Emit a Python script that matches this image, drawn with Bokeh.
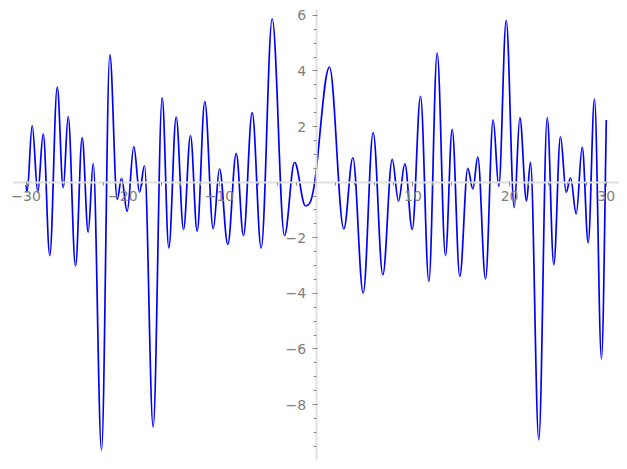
import numpy as np
from bokeh.plotting import figure
from bokeh.models import ColumnDataSource, FixedTicker, CustomJSTickFormatter
from bokeh.embed import file_html
from bokeh.resources import INLINE

# Points (mostly its turning points), with the local slope
xs = [-30.0, -29.9, -29.37, -28.79, -28.23, -27.55, -26.78, -26.16, -25.65, -24.89,
      -24.2, -23.58, -23.06, -22.2, -21.34, -20.58, -20.13, -19.55, -18.86, -18.27,
      -17.76, -16.86, -15.93, -15.24, -14.48, -13.72, -13.0, -12.31, -11.52, -10.65,
      -10.0, -9.14, -8.27, -7.52, -6.62, -5.69, -4.55, -3.28, -2.24, -1.11,
      0.0, 1.37, 2.86, 3.79, 4.86, 5.89, 6.89, 7.86, 8.51, 9.17,
      9.93, 10.79, 11.65, 12.51, 13.37, 14.06, 14.85, 15.68, 16.2, 16.71,
      17.51, 18.3, 18.88, 19.65, 20.48, 21.06, 21.75, 22.16, 23.02, 23.89,
      24.57, 25.26, 25.85, 26.3, 26.89, 27.51, 28.13, 28.78, 29.5, 30.0]
ys = [-0.1, -0.35, 2.04, -0.36, 1.74, -2.64, 3.42, -0.2, 2.36, -3.02,
      1.6, -1.8, 0.68, -9.65, 4.59, -0.62, 0.14, -1.05, 1.28, -0.36,
      0.6, -8.81, 3.04, -2.36, 2.34, -1.7, 1.68, -1.76, 2.9, -1.68,
      0.48, -2.24, 1.04, -1.92, 2.5, -2.37, 5.88, -1.92, 0.71, -0.85,
      0.42, 4.14, -1.68, 0.88, -3.99, 1.78, -3.33, 0.82, -0.68, 0.66,
      -1.7, 3.09, -3.57, 4.64, -2.64, 1.9, -3.39, 0.5, -0.24, 0.9,
      -3.48, 2.24, -0.15, 5.82, -0.92, 2.32, -0.68, 0.72, -9.27, 2.32,
      -2.97, 1.64, -0.36, 0.16, -1.14, 1.26, -2.18, 3.0, -6.35, 2.24]
slopes = [-3.0] + [0.0] * 39 + [3.0] + [0.0] * 38 + [20.0]

x_ticks = [-30, -20, -10, 10, 20, 30]
x_minor = list(range(-30, 31, 2))
y_ticks = [-8, -6, -4, -2, 2, 4, 6]
y_minor = [v / 2 for v in range(-19, 13)]

# Smooth curve: one cubic Bezier per pair of consecutive points
k = 0.36
x0 = np.array(xs[:-1]); x1 = np.array(xs[1:])
y0 = np.array(ys[:-1]); y1 = np.array(ys[1:])
m0 = np.array(slopes[:-1]); m1 = np.array(slopes[1:])
dx = x1 - x0
src = ColumnDataSource(dict(
    x0=x0, y0=y0, x1=x1, y1=y1,
    cx0=x0 + k * dx, cy0=y0 + m0 * k * dx,
    cx1=x1 - k * dx, cy1=y1 - m1 * k * dx,
))

p = figure(width=627, height=469, x_range=(-32.647, 32.192), y_range=(-10.335, 6.536),
           output_backend="svg", toolbar_location=None, min_border=0)
p.outline_line_color = None
p.grid.visible = False
p.background_fill_color = "white"
p.border_fill_color = "white"

p.bezier(x0="x0", y0="y0", x1="x1", y1="y1", cx0="cx0", cy0="cy0",
         cx1="cx1", cy1="cy1", source=src, line_color="#0000ff", line_width=1.7)

fmt = CustomJSTickFormatter(code="return tick < 0 ? '\u2212' + Math.abs(tick) : String(tick);")

for ax, ticks, minor in ((p.xaxis[0], x_ticks, x_minor), (p.yaxis[0], y_ticks, y_minor)):
    ax.fixed_location = 0
    ax.ticker = FixedTicker(ticks=ticks, minor_ticks=minor)
    ax.formatter = fmt
    ax.axis_line_color = "#e0e0e0"
    ax.axis_line_width = 2
    ax.major_tick_line_color = "#8a8a8a"
    ax.minor_tick_line_color = "#8a8a8a"
    ax.major_tick_out = 4
    ax.major_tick_in = 1
    ax.minor_tick_out = 3
    ax.minor_tick_in = 0
    ax.major_label_text_font = "DejaVu Sans"
    ax.major_label_text_font_size = "14px"
    ax.major_label_text_color = "#808080"

p.xaxis[0].bounds = (-31.35, 31.26)
p.yaxis[0].bounds = (-9.98, 6.2)
p.xaxis[0].major_label_standoff = 5
p.yaxis[0].major_label_standoff = 6

open("out.html", "w").write(file_html(p, INLINE))
